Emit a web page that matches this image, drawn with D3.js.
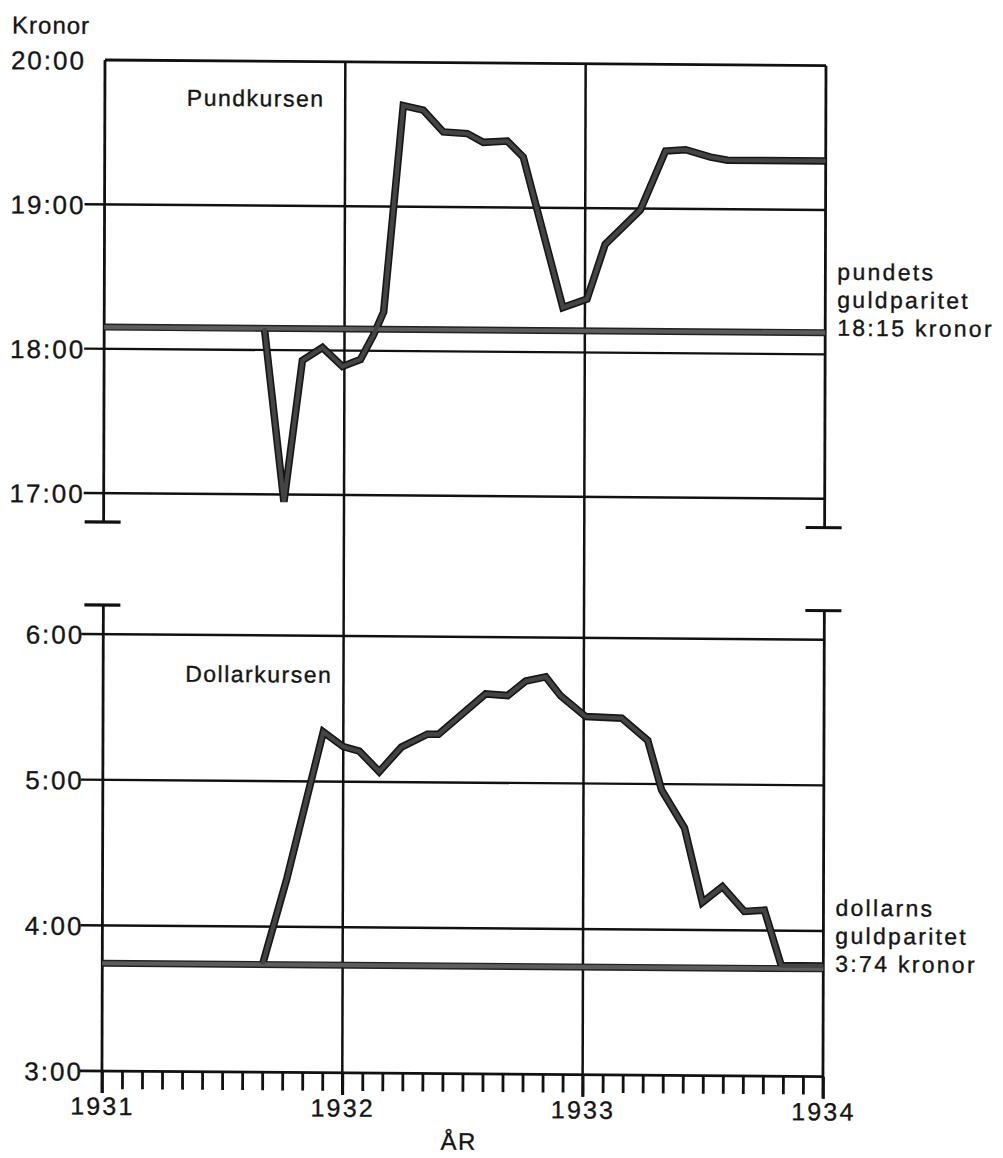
<!DOCTYPE html>
<html><head><meta charset="utf-8">
<script src="https://cdn.jsdelivr.net/npm/d3@7"></script>
<style>
html,body{margin:0;padding:0;background:#fff;}
svg{display:block;}
text{font-family:"Liberation Sans", Arial, Helvetica, sans-serif; fill:#151515; stroke:#151515; stroke-width:0.35px;}
</style></head><body>
<svg id="chart" width="1003" height="1158"></svg>
<script>
// ---- data (months counted from January 1931) ----
const poundMonths = [8.0, 9.0, 9.9, 10.9, 11.9, 12.8, 13.45, 13.95, 14.9, 15.9, 16.9, 18.1, 18.9, 20.1, 20.9, 22.9, 24.1, 25.0, 26.75, 28.0, 29.0, 30.25, 31.1, 36];
const poundValues = [18.15, 16.95, 17.93, 18.02, 17.89, 17.94, 18.11, 18.27, 19.70, 19.67, 19.52, 19.51, 19.45, 19.46, 19.35, 18.31, 18.37, 18.75, 18.99, 19.40, 19.41, 19.36, 19.34, 19.34];
const dollarMonths = [8.0, 9.2, 11.0, 12.0, 12.8, 13.8, 14.9, 16.2, 16.75, 19.1, 20.2, 21.1, 22.1, 22.85, 24.1, 25.9, 27.2, 27.9, 29.05, 29.95, 30.95, 32.05, 33.05, 33.9, 36];
const dollarValues = [3.74, 4.33, 5.34, 5.24, 5.21, 5.07, 5.24, 5.33, 5.33, 5.61, 5.60, 5.70, 5.73, 5.60, 5.46, 5.45, 5.30, 4.96, 4.70, 4.19, 4.30, 4.13, 4.14, 3.76, 3.76];
const poundTicks = [17, 18, 19, 20];
const dollarTicks = [3, 4, 5, 6];
const yearLabels = ["1931", "1932", "1933", "1934"];
const poundParity = 18.15;
const dollarParity = 3.74;
const poundTitle = "Pundkursen";
const dollarTitle = "Dollarkursen";
const poundNote = ["pundets", "guldparitet", "18:15 kronor"];
const dollarNote = ["dollarns", "guldparitet", "3:74 kronor"];

// ---- scales ----
const x = d3.scaleLinear().domain([0, 36]).range([105, 826]);
const yP = d3.scaleLinear().domain([16.8, 20]).range([522, 60]);
const yD = d3.scaleLinear().domain([3, 6.2]).range([1071, 605]);
const INK = "#111";
const xBottom = 1093;

const svg = d3.select("#chart");
const g = svg.append("g")
  .attr("transform", "translate(105,60) matrix(1,0.0078,-0.003,1,0,0) translate(-105,-60)");

function hline(x1, x2, y, w) {
  g.append("line").attr("x1", x1).attr("x2", x2).attr("y1", y).attr("y2", y)
    .attr("stroke", INK).attr("stroke-width", w);
}
function vline(xx, y1, y2, w) {
  g.append("line").attr("x1", xx).attr("x2", xx).attr("y1", y1).attr("y2", y2)
    .attr("stroke", INK).attr("stroke-width", w);
}

// gridlines
poundTicks.forEach(t => hline(t === 20 ? x(0) : 85, x(36), yP(t), t === 20 ? 2.8 : 2.4));
dollarTicks.forEach(t => hline(83, x(36), yD(t), t === 3 ? 2.8 : 2.4));
[12, 24].forEach(m => vline(x(m), yP(20), xBottom, 2.5));

// frame / axes
vline(x(0), yP(20), yP(16.8), 2.8);
vline(x(36), yP(20), yP(16.8), 2.8);
vline(x(0), yD(6.2), xBottom, 2.8);
vline(x(36), yD(6.2), xBottom, 2.8);
[x(0), x(36)].forEach(xx => {
  hline(xx - 19, xx + 17, yP(16.8), 3.2);
  hline(xx - 19, xx + 17, yD(6.2), 3.2);
});

// month ticks + year labels via axis
const xAxis = d3.axisBottom(x).tickValues(d3.range(0, 37)).tickSize(18).tickPadding(8)
  .tickFormat(d => d % 12 === 0 ? yearLabels[d / 12] : "");
const ax = g.append("g").attr("transform", `translate(0,${yD(3)})`).call(xAxis);
ax.select(".domain").remove();
ax.selectAll(".tick line").attr("stroke", INK).attr("stroke-width", 2.8)
  .attr("y2", d => d % 12 === 0 ? 22 : 18);
ax.selectAll(".tick text").attr("font-size", 25).attr("letter-spacing", 2.2)
  .attr("font-family", "Liberation Sans, Arial, sans-serif").attr("fill", "#151515");

// y tick labels via axes
function yLabels(scale, ticks, x0) {
  const a = g.append("g").attr("transform", `translate(${x0},0)`)
    .call(d3.axisLeft(scale).tickValues(ticks).tickSize(0).tickPadding(19).tickFormat(d => d + ":00"));
  a.select(".domain").remove();
  a.selectAll(".tick text").attr("font-size", 26).attr("letter-spacing", 2)
    .attr("font-family", "Liberation Sans, Arial, sans-serif").attr("fill", "#151515")
    .attr("dy", "0.36em");
}
yLabels(yP, poundTicks, x(0));
yLabels(yD, dollarTicks, x(0));

// parity + series lines
const lineP = d3.line().x(d => x(d[0])).y(d => yP(d[1]));
const lineD = d3.line().x(d => x(d[0])).y(d => yD(d[1]));
const pData = poundMonths.map((m, i) => [m, poundValues[i]]);
const dData = dollarMonths.map((m, i) => [m, dollarValues[i]]);
const parP = [[0, poundParity], [36, poundParity]];
const parD = [[0, dollarParity], [36, dollarParity]];

function stroke(d, gen, col, w) {
  g.append("path").attr("d", gen(d)).attr("fill", "none").attr("stroke", col)
    .attr("stroke-width", w).attr("stroke-linejoin", "miter").attr("stroke-miterlimit", 3);
}
stroke(parP, lineP, "#222", 7);
stroke(parD, lineD, "#222", 7);
stroke(pData, lineP, "#161616", 7.5);
stroke(dData, lineD, "#161616", 7.5);
stroke(parP, lineP, "#5c5c5c", 4.2);
stroke(parD, lineD, "#5c5c5c", 4.2);
stroke(pData, lineP, "#444", 4.2);
stroke(dData, lineD, "#444", 4.2);

// texts
function txt(s, xx, yy, size, ls, anchor) {
  g.append("text").attr("x", xx).attr("y", yy).attr("font-size", size)
    .attr("letter-spacing", ls).attr("text-anchor", anchor || "start").text(s);
}
txt("Kronor", 12, 34, 24, 1);
txt(poundTitle, 187, 105, 23, 1.5);
txt(dollarTitle, 187, 681, 23, 1.5);
poundNote.forEach((s, i) => txt(s, 838, 274 + i * 28, 23, 2.3));
dollarNote.forEach((s, i) => txt(s, 838, 910 + i * 28, 23, 2.3));
txt("ÅR", 462, 1147, 24, 1.5, "middle");
</script>
</body></html>
